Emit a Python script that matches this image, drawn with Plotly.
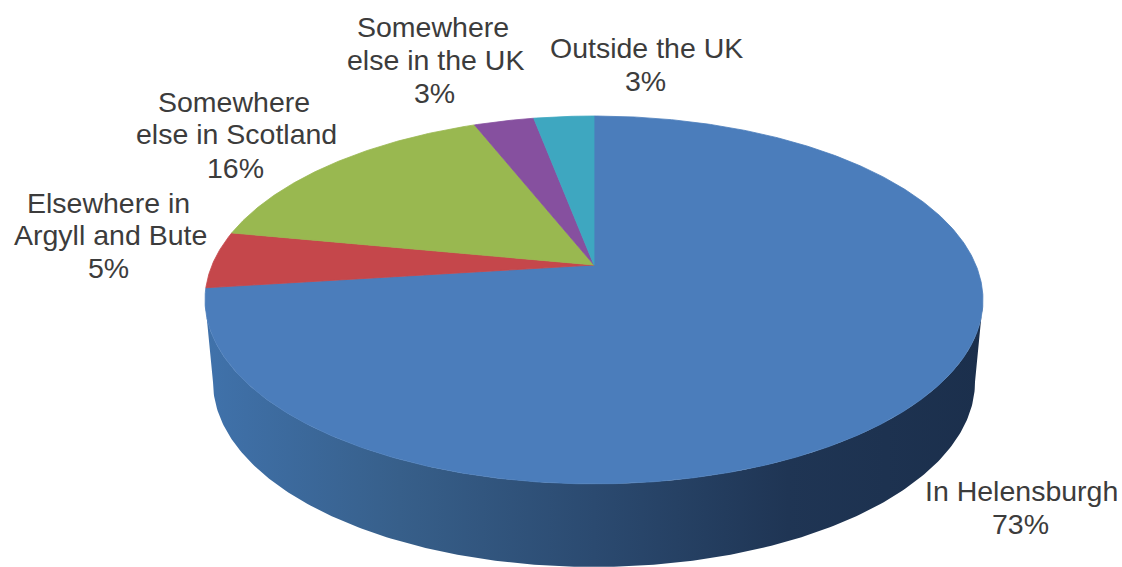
import numpy as np
import plotly.graph_objects as go

# Survey shares, listed clockwise from twelve o'clock
categories = [
    "In Helensburgh",
    "Elsewhere in Argyll and Bute",
    "Somewhere else in Scotland",
    "Somewhere else in the UK",
    "Outside the UK",
]
shares = [73, 5, 16, 3, 3]
label_lines = [
    ["In Helensburgh"],
    ["Elsewhere in", "Argyll and Bute"],
    ["Somewhere", "else in Scotland"],
    ["Somewhere", "else in the UK"],
    ["Outside the UK"],
]
slice_colors = ["#4b7dbb", "#c5474b", "#99b850", "#86509f", "#3ea7c0"]
wall_stops = [
    (0.0, "#4072ab"),
    (0.25, "#375f8a"),
    (0.5, "#2b4a70"),
    (0.75, "#1f3554"),
    (1.0, "#1b2f4c"),
]

# Centre of each label line: (x, y) per line, top to bottom, the last for the percentage
label_anchors = [
    [(1021, 491), (1020, 524)],
    [(108, 203), (110, 235), (108, 268)],
    [(234, 102), (236, 134), (235, 168)],
    [(433, 27), (435, 60), (434, 93)],
    [(646, 48), (645, 81)],
]

# Perspective disc: apex of the slices, horizontal scale, vertical scale, foreshortening
APEX_X, APEX_Y = 594.0, 265.0
SCALE_U, SCALE_V, TILT = 381.9, 177.3, 0.19
# Lower rim of the wall, treated as a plain ellipse
RIM_X, RIM_Y, RIM_RX, RIM_RY = 594.0, 382.0, 381.0, 185.0
TEXT_COLOR = "#3c3c3c"


def project(theta):
    """Map clockwise-from-top angles on the unit disc to page coordinates."""
    u, v = np.sin(theta), np.cos(theta)
    depth = 1 + TILT * v
    return APEX_X + SCALE_U * u / depth, APEX_Y - SCALE_V * v / depth


fig = go.Figure()

# Outer wall: lower rim joined to the disc edge at its widest points
t_front = np.linspace(-np.pi / 2, np.pi / 2, 241)
rim_x = RIM_X + RIM_RX * np.sin(t_front)
rim_y = RIM_Y + RIM_RY * np.cos(t_front)
widest = np.arccos(-TILT)
disc_t = np.linspace(widest, 2 * np.pi - widest, 241)
disc_x, disc_y = project(disc_t)
wall_x = np.concatenate([rim_x, disc_x])
wall_y = np.concatenate([rim_y, disc_y])
fig.add_trace(go.Scatter(
    x=wall_x, y=wall_y, mode="lines", fill="toself",
    line=dict(width=0),
    fillgradient=dict(
        type="horizontal", colorscale=wall_stops,
        start=float(wall_x.min()), stop=float(wall_x.max()),
    ),
    hoverinfo="skip", showlegend=False,
))

# Top face: one wedge per category
edges = 2 * np.pi * np.concatenate([[0], np.cumsum(shares)]) / sum(shares)
for name, color, t0, t1 in zip(categories, slice_colors, edges[:-1], edges[1:]):
    t = np.linspace(t0, t1, max(int((t1 - t0) * 120), 12))
    x, y = project(t)
    fig.add_trace(go.Scatter(
        x=np.concatenate([[APEX_X], x, [APEX_X]]),
        y=np.concatenate([[APEX_Y], y, [APEX_Y]]),
        mode="lines", fill="toself", fillcolor=color,
        line=dict(color=color, width=0.8),
        name=name, hoverinfo="name", showlegend=False,
    ))

# Slice labels: name lines followed by the percentage
for lines, share, anchors in zip(label_lines, shares, label_anchors):
    for text, (ax, ay) in zip(lines + [f"{share}%"], anchors):
        fig.add_annotation(
            x=ax, y=ay, text=text, showarrow=False,
            xanchor="center", yanchor="middle",
            font=dict(family="Liberation Sans", size=28.5, color=TEXT_COLOR),
        )

fig.update_layout(
    width=1122, height=567, autosize=False,
    margin=dict(l=0, r=0, t=0, b=0),
    paper_bgcolor="white", plot_bgcolor="white",
    xaxis=dict(range=[0, 1122], visible=False, fixedrange=True),
    yaxis=dict(range=[567, 0], visible=False, fixedrange=True),
    showlegend=False,
)

fig.write_html("out.html", config=dict(displayModeBar=False))
